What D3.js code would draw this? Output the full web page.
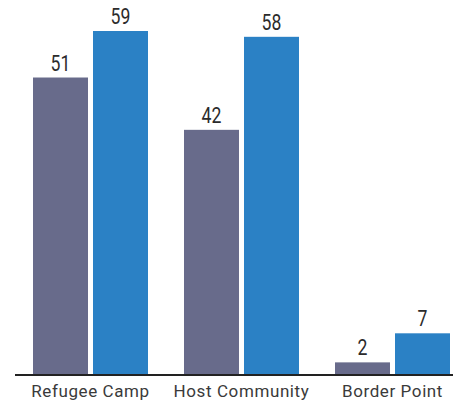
<!DOCTYPE html>
<html lang="en">
<head>
<meta charset="UTF-8">
<title>Refugee Camp / Host Community / Border Point</title>
<script src="https://d3js.org/d3.v7.min.js"></script>
<style>
  body { margin: 0; background: #fff; }
  .cat { font-family: Roboto, "Open Sans", sans-serif; font-size: 17px; letter-spacing: 0.6px; fill: #3a3a3a; }
  .val { font-family: Roboto, sans-serif; font-weight: 400; font-size: 22px; fill: #2b2b2b; }
</style>
</head>
<body>
<svg id="chart"></svg>
<script>
// data
var categories = ["Refugee Camp", "Host Community", "Border Point"];
var seriesNames = ["a", "b"];
var seriesA = [51, 42, 2];
var seriesB = [59, 58, 7];
var colors = ["#686b8b", "#2b81c5"];

var width = 453, height = 403;
var baseY = 374;

var svg = d3.select("#chart").attr("width", width).attr("height", height);

var rows = categories.map(function (c, i) {
  return { cat: c, values: [seriesA[i], seriesB[i]] };
});

var x0 = d3.scaleBand()
  .domain(categories)
  .range([15, 468])
  .paddingInner(36 / 151)
  .paddingOuter(18 / 151);

var x1 = d3.scaleBand()
  .domain(seriesNames)
  .range([0, x0.bandwidth()])
  .paddingInner(5 / 60);

var y = d3.scaleLinear()
  .domain([0, 59])
  .range([baseY, 31]);

var groups = svg.selectAll("g.grp")
  .data(rows)
  .enter()
  .append("g")
  .attr("class", "grp")
  .attr("transform", function (d) { return "translate(" + x0(d.cat) + ",0)"; });

var cells = groups.selectAll("g.cell")
  .data(function (d) {
    return d.values.map(function (v, j) { return { s: seriesNames[j], v: v, j: j }; });
  })
  .enter()
  .append("g")
  .attr("class", "cell");

cells.append("rect")
  .attr("x", function (d) { return x1(d.s); })
  .attr("y", function (d) { return y(d.v); })
  .attr("width", x1.bandwidth())
  .attr("height", function (d) { return baseY - y(d.v); })
  .attr("fill", function (d) { return colors[d.j]; });

// value labels, squeezed to look condensed
cells.append("text")
  .attr("class", "val")
  .attr("transform", function (d) {
    return "translate(" + (x1(d.s) + x1.bandwidth() / 2) + "," + (y(d.v) - 7) + ") scale(0.8,1)";
  })
  .attr("text-anchor", "middle")
  .text(function (d) { return d.v; });

// baseline
svg.append("line")
  .attr("x1", 15).attr("x2", width)
  .attr("y1", baseY + 1).attr("y2", baseY + 1)
  .attr("stroke", "#222")
  .attr("stroke-width", 2);

// category labels
svg.selectAll("text.cat")
  .data(categories)
  .enter()
  .append("text")
  .attr("class", "cat")
  .attr("x", function (d) { return x0(d) + x0.bandwidth() / 2; })
  .attr("y", 397)
  .attr("text-anchor", "middle")
  .text(function (d) { return d; });
</script>
</body>
</html>
